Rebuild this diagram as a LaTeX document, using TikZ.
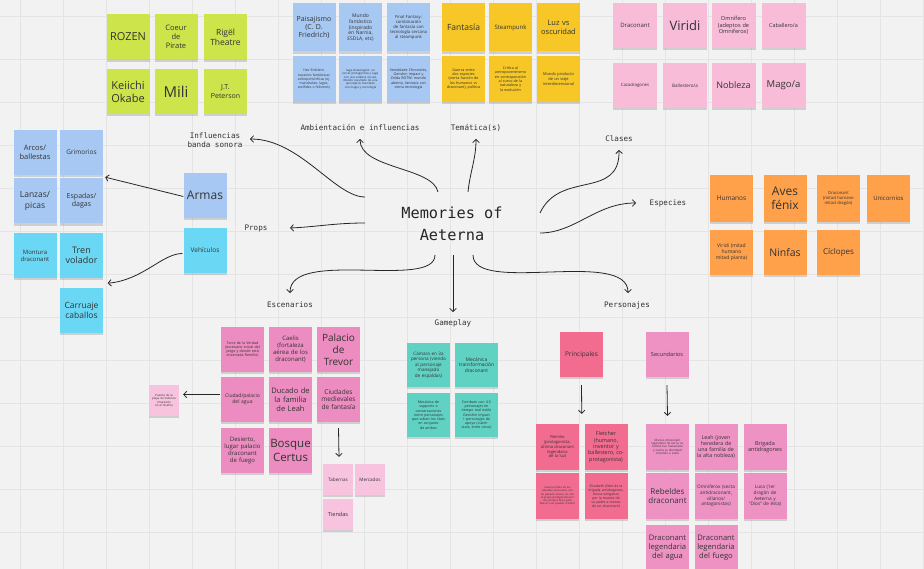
\documentclass[tikz,border=0pt]{standalone}
\usepackage{fontspec}
\setmainfont{Open Sans}
\newfontfamily\lblfont{DejaVu Sans Mono}
\usetikzlibrary{arrows.meta,shadows,calc}
\definecolor{bgc}{HTML}{F2F2F2}
\definecolor{gridc}{HTML}{E4E4E4}
\definecolor{cLime}{HTML}{CDE54B}
\definecolor{cBlue}{HTML}{A7C8F2}
\definecolor{cYellow}{HTML}{F6C726}
\definecolor{cPinkL}{HTML}{F8BCD8}
\definecolor{cOrange}{HTML}{FFA04B}
\definecolor{cCyan}{HTML}{6AD8F4}
\definecolor{cPinkM}{HTML}{EC8CC0}
\definecolor{cPinkLL}{HTML}{F7C3DE}
\definecolor{cTeal}{HTML}{60D2C4}
\definecolor{cRose}{HTML}{F26C90}
\definecolor{cPinkS}{HTML}{EE92C4}
\newcommand\fsz[1]{\fontsize{#1}{\fpeval{#1*1.18}}\selectfont\hyphenpenalty=10000\exhyphenpenalty=10000 }
\hyphenpenalty=10000
\exhyphenpenalty=10000
\tikzset{
  note/.style={fill=#1, minimum width=43pt, minimum height=45pt, inner sep=0pt,
    text width=41pt, align=center, text=black!80,
    drop shadow={shadow xshift=0pt,shadow yshift=-2.2pt,opacity=.3}},
  smallnote/.style={note=#1, minimum width=30pt, minimum height=31pt, text width=28pt},
  lbl/.style={font=\lblfont\fontsize{7.6}{9.5}\selectfont, text=black!80, align=center, inner sep=1pt},
  conn/.style={draw=black!85, line width=0.8pt, -{Straight Barb[length=3pt,width=6.5pt]}},
}
\begin{document}
\hyphenpenalty=10000
\exhyphenpenalty=10000
\begin{tikzpicture}[x=1pt,y=-1pt]
\useasboundingbox (0,0) rectangle (924,569);
\fill[bgc] (0,0) rectangle (924,569);
\foreach \gx in {20,63,...,924} \draw[gridc,line width=0.5pt] (\gx,0) -- (\gx,569);
\foreach \gy in {16,59,...,569} \draw[gridc,line width=0.5pt] (0,\gy) -- (924,\gy);

% ---------- root ----------
\node[font=\lblfont\fontsize{15.3}{22}\selectfont, align=center, text=black!85] (root) at (452,224) {Memories of\\Aeterna};

% ---------- labels ----------
\node[lbl] (lInf) at (215,140) {Influencias\\banda sonora};
\node[lbl] (lAmb) at (360,128) {Ambientación e influencias};
\node[lbl] (lTem) at (476,128) {Temática(s)};
\node[lbl] (lCla) at (619,139) {Clases};
\node[lbl] (lEsp) at (668,203) {Especies};
\node[lbl] (lProps) at (256,229) {Props};
\node[lbl] (lEsc) at (290,305) {Escenarios};
\node[lbl] (lGame) at (453,323) {Gameplay};
\node[lbl] (lPers) at (627,305) {Personajes};

% ---------- music ----------
\node[note=cLime, font=\fsz{11}] (rozen) at (128,37) {ROZEN};
\node[note=cLime, font=\fsz{7.5}] (coeur) at (176,37) {Coeur\\de\\Pirate};
\node[note=cLime, font=\fsz{8.5}] (rigel) at (225.5,37) {Rigël\\Theatre};
\node[note=cLime, font=\fsz{11}] (okabe) at (128,91.5) {Keiichi\\Okabe};
\node[note=cLime, font=\fsz{15}] (mili) at (176,91.5) {Mili};
\node[note=cLime, font=\fsz{7}] (jt) at (225.5,91.5) {J.T.\\Peterson};

% ---------- ambientacion ----------
\node[note=cBlue, minimum height=48pt, font=\fsz{7}] (a1) at (314,27.5) {Paisajismo (C.~D. Friedrich)};
\node[note=cBlue, minimum height=48pt, font=\fsz{5}] (a2) at (360.5,27.5) {Mundo fantástico (inspirado en Narnia, ESDLA, etc)};
\node[note=cBlue, minimum height=48pt, font=\fsz{4.2}, text width=37pt] (a3) at (408.5,27.5) {Final Fantasy: combinación de fantasía con tecnología cercana al steampunk};
\node[note=cBlue, minimum height=46pt, font=\fsz{3.4}, text width=37pt] (a4) at (314,79) {Hex Emblem: especies fantásticas antropomórficas (ej. mandrakes, lagos, wolfides o felismes)};
\node[note=cBlue, minimum height=46pt, font=\fsz{2.9}, text width=38pt] (a5) at (360.5,79) {Saga Drakengard: un tercer protagonista y saga con una estética oscura. Mundo resultado de una apocalipsis mezclado con magia y tecnología};
\node[note=cBlue, minimum height=46pt, font=\fsz{3.6}, text width=38pt] (a6) at (408.5,79) {Xenoblade Chronicles, Genshin Impact y Zelda BOTW: mundo abierto, fantasía con cierta tecnología};

% ---------- tematica ----------
\node[note=cYellow, minimum height=48pt, font=\fsz{8.5}] (t1) at (463.5,27.5) {Fantasía};
\node[note=cYellow, minimum height=48pt, font=\fsz{6}] (t2) at (510.5,27.5) {Steampunk};
\node[note=cYellow, minimum height=48pt, font=\fsz{7.5}] (t3) at (558.5,27.5) {Luz vs\\oscuridad};
\node[note=cYellow, minimum height=46pt, font=\fsz{3.7}, text width=36pt] (t4) at (463.5,79) {Guerra entre dos especies (cierta facción de los humanos vs draconant), política};
\node[note=cYellow, minimum height=46pt, font=\fsz{3.7}, text width=38pt] (t5) at (510.5,79) {Crítica al antropocentrismo en contraposición al curso de la naturaleza y la evolución};
\node[note=cYellow, minimum height=46pt, font=\fsz{3.9}, text width=36pt] (t6) at (558.5,79) {Mundo producto de un viaje interdimensional};

% ---------- clases ----------
\node[note=cPinkL, minimum width=44pt, font=\fsz{6}] (c1) at (635,25.5) {Draconant};
\node[note=cPinkL, minimum width=44pt, font=\fsz{13}] (c2) at (685,25.5) {Viridi};
\node[note=cPinkL, minimum width=44pt, font=\fsz{5.6}] (c3) at (733.5,25.5) {Omnífero (adeptos de Omniferox)};
\node[note=cPinkL, minimum width=44pt, font=\fsz{5.4}] (c4) at (783.5,25.5) {Caballero/a};
\node[note=cPinkL, minimum width=44pt, font=\fsz{4.3}] (c5) at (635,85.5) {Cazadragones};
\node[note=cPinkL, minimum width=44pt, font=\fsz{4.6}] (c6) at (685,85.5) {Ballestero/a};
\node[note=cPinkL, minimum width=44pt, font=\fsz{9}] (c7) at (733.5,85.5) {Nobleza};
\node[note=cPinkL, minimum width=44pt, font=\fsz{9.5}] (c8) at (783.5,85.5) {Mago/a};

% ---------- props ----------
\node[note=cBlue, font=\fsz{7.5}] (arcos) at (35,152.5) {Arcos/\\ballestas};
\node[note=cBlue, font=\fsz{6.5}] (grim) at (81.5,152.5) {Grimorios};
\node[note=cBlue, font=\fsz{8.5}] (lanzas) at (35,201) {Lanzas/\\picas};
\node[note=cBlue, font=\fsz{7}] (espadas) at (81.5,201) {Espadas/\\dagas};
\node[note=cBlue, font=\fsz{12}] (armas) at (205,195.5) {Armas};
\node[note=cCyan, font=\fsz{6.5}] (veh) at (205,250.5) {Vehículos};
\node[note=cCyan, font=\fsz{6}] (montura) at (35,255.5) {Montura\\draconant};
\node[note=cCyan, font=\fsz{9}] (tren) at (81.5,255.5) {Tren\\volador};
\node[note=cCyan, font=\fsz{8.5}] (carruaje) at (81.5,310.5) {Carruaje\\caballos};

% ---------- especies ----------
\node[note=cOrange, minimum height=47pt, font=\fsz{6.5}] (h1) at (731.5,198.5) {Humanos};
\node[note=cOrange, minimum height=47pt, font=\fsz{12}] (h2) at (785,198.5) {Aves\\fénix};
\node[note=cOrange, minimum height=47pt, font=\fsz{4.2}, text width=34pt] (h3) at (838.5,198.5) {Draconant (mitad humano mitad dragón)};
\node[note=cOrange, minimum height=47pt, font=\fsz{6}] (h4) at (888.5,198.5) {Unicornios};
\node[note=cOrange, font=\fsz{5}, text width=34pt] (h5) at (731.5,252.5) {Viridi (mitad humano mitad planta)};
\node[note=cOrange, font=\fsz{10.5}] (h6) at (785,252.5) {Ninfas};
\node[note=cOrange, font=\fsz{8}] (h7) at (838.5,252.5) {Cíclopes};

% ---------- escenarios ----------
\node[note=cPinkM, font=\fsz{3.6}, text width=36pt] (e1) at (242.5,349.5) {Torre de la Verdad (escenario inicial del juego y donde está encerrada Remilio)};
\node[note=cPinkM, font=\fsz{6}] (e2) at (290.5,349.5) {Caelis (fortaleza aérea de los draconant)};
\node[note=cPinkM, font=\fsz{10}] (e3) at (338.5,349.5) {Palacio\\de\\Trevor};
\node[note=cPinkM, font=\fsz{5}] (e4) at (242.5,399.5) {Ciudad/palacio\\del agua};
\node[note=cPinkM, font=\fsz{7.5}] (e5) at (290.5,399.5) {Ducado de la familia de Leah};
\node[note=cPinkM, font=\fsz{6.5}] (e6) at (338.5,399.5) {Ciudades medievales de fantasía};
\node[note=cPinkM, font=\fsz{6}] (e7) at (242.5,450.5) {Desierto, lugar palacio draconant de fuego};
\node[note=cPinkM, font=\fsz{11.5}] (e8) at (290.5,450.5) {Bosque\\Certus};
\node[smallnote=cPinkLL, font=\fsz{2.9}, text width=25pt] (side) at (164,400.5) {Puente de la playa de Valencia (inspirado en el diseño)};
\node[smallnote=cPinkLL, font=\fsz{4.6}] (tab) at (338,479.5) {Tabernas};
\node[smallnote=cPinkLL, font=\fsz{4.6}] (merc) at (370,479.5) {Mercados};
\node[smallnote=cPinkLL, font=\fsz{5.6}] (tiend) at (338,514.5) {Tiendas};

% ---------- gameplay ----------
\node[note=cTeal, minimum height=44pt, font=\fsz{4.6}, text width=38pt] (g1) at (428.5,365) {Cámara en 3a persona (viendo al personaje manejado de espaldas)};
\node[note=cTeal, minimum height=44pt, font=\fsz{4.9}] (g2) at (476.5,365) {Mecánica transformación draconant};
\node[note=cTeal, minimum height=44pt, font=\fsz{3.6}, text width=34pt] (g3) at (428.5,415) {Mecánica de supports o conversaciones entre personajes que suben los stats en conjunto de ambos};
\node[note=cTeal, minimum height=44pt, font=\fsz{3.6}, text width=35pt] (g4) at (476.5,415) {Combate con 4-5 personajes en tiempo real estilo Genshin Impact + personajes de apoyo (cubrir stats, entre otros)};

% ---------- personajes ----------
\node[note=cRose, font=\fsz{6.5}] (prin) at (581.5,354.5) {Principales};
\node[note=cRose, minimum height=46pt, font=\fsz{4.1}, text width=36pt] (p1) at (557.5,447) {Remilio (protagonista, última draconant legendaria de la luz)};
\node[note=cRose, minimum height=46pt, font=\fsz{5.4}] (p2) at (606,447) {Fletcher\\(humano,\\inventor y\\ballestero, co-\\protagonista)};
\node[note=cRose, minimum height=46pt, font=\fsz{2.7}, text width=37pt] (p3) at (557.5,496) {Lazuli (el líder de los rebeldes draconant, con un pasado oscuro, se une al grupo protagonista por sus propios fines para liberar a su pueblo, traidor)};
\node[note=cRose, minimum height=46pt, font=\fsz{3.4}, text width=37pt] (p4) at (606,496) {Elizabeth (líder de la brigada antidragones, busca venganza por la muerte de su padre a manos de un draconant)};

\node[note=cPinkS, font=\fsz{5.6}] (sec) at (667,354.5) {Secundarios};
\node[note=cPinkS, minimum height=46pt, font=\fsz{2.9}, text width=37pt] (s1) at (667.5,447) {Marcus (draconant legendario de tierra, su familia fue masacrada y oculta su identidad sirviendo a Leah)};
\node[note=cPinkS, minimum height=46pt, font=\fsz{5.3}] (s2) at (716,447) {Leah (joven heredera de una familia de la alta nobleza)};
\node[note=cPinkS, minimum height=46pt, font=\fsz{5.5}] (s3) at (765,447) {Brigada antidragones};
\node[note=cPinkS, minimum height=46pt, font=\fsz{8}] (s4) at (667.5,496) {Rebeldes\\draconant};
\node[note=cPinkS, minimum height=46pt, font=\fsz{4.7}] (s5) at (716,496) {Omniferox (secta antidraconant, villanos/ antagonistas)};
\node[note=cPinkS, minimum height=46pt, font=\fsz{4.7}, text width=36pt] (s6) at (765,496) {Luca (1er dragón de Aeterna y ``Dios'' de ésta)};
\node[note=cPinkS, minimum height=46pt, font=\fsz{7.6}] (s7) at (667.5,547.5) {Draconant legendaria del agua};
\node[note=cPinkS, minimum height=46pt, font=\fsz{7.6}] (s8) at (716,547.5) {Draconant legendaria del fuego};

% ---------- connectors ----------
\draw[conn] ([shift={(-87,-27)}]root.center) .. controls +(-30,0) and +(50,0) .. ([shift={(35,-1)}]lInf.center);
\draw[conn] ([shift={(-14,-32)}]root.center) .. controls +(-5,-25) and +(0,30) .. ([shift={(0,11)}]lAmb.center);
\draw[conn] ([shift={(16,-32)}]root.center) .. controls +(2,-20) and +(0,20) .. ([shift={(0,11)}]lTem.center);
\draw[conn] ([shift={(88,-11)}]root.center) .. controls +(20,-43) and +(1,50) .. ([shift={(0,11)}]lCla.center);
\draw[conn] ([shift={(88,9)}]root.center) .. controls +(35,0) and +(-40,0) .. ([shift={(-32,0)}]lEsp.center);
\draw[conn] ([shift={(-87,-1)}]root.center) .. controls +(-30,0) and +(25,-1) .. ([shift={(34,-1)}]lProps.center);
\draw[conn] ([shift={(-17,31)}]root.center) .. controls +(0,35) and +(0,-45) .. ([shift={(0,-12)}]lEsc.center);
\draw[conn] ([shift={(1,31)}]root.center) -- ([shift={(0,-11)}]lGame.center);
\draw[conn] ([shift={(21,31)}]root.center) .. controls +(0,40) and +(0,-45) .. ([shift={(1,-12)}]lPers.center);

\draw[conn] ([shift={(0,1)}]armas.west) -- ([shift={(2,2)}]grim.south east);
\draw[conn] ([shift={(-1,3)}]veh.west) .. controls +(-20,0) and +(35,-3) .. ([shift={(4.5,5)}]tren.south east);
\draw[conn] ([shift={(-1,-5)}]e4.west) -- ([shift={(4,-6)}]side.east);
\draw[conn] ([shift={(0,6)}]e6.south) -- ([shift={(1,-7)}]tab.north);
\draw[conn] ([shift={(0,8)}]prin.south) -- ($(p1.north east)!.5!(p2.north west)+(0,-10)$);
\draw[conn] ([shift={(0,8)}]sec.south) -- ([shift={(0,-8)}]s1.north);
\end{tikzpicture}
\end{document}
